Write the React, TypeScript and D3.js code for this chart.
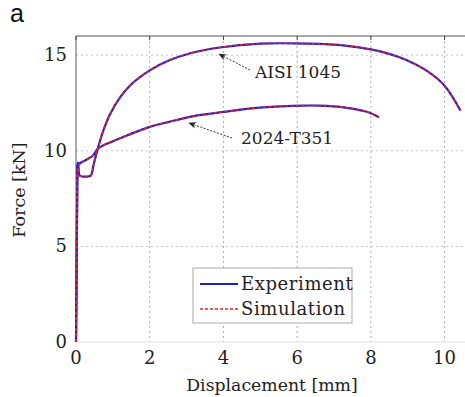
import React from "react";
import * as d3 from "d3";

const W = 465;
const H = 397;

const xTicks = [0, 2, 4, 6, 8, 10];
const yTicks = [0, 5, 10, 15];

// AISI 1045 — experiment
const aisiExpX = [0, 0.02, 0.035, 0.05, 0.07, 0.1, 0.2, 0.3, 0.4, 0.48, 0.59, 0.75, 0.92, 1.2, 1.46, 2.0, 2.5, 3.1, 3.9, 5.0, 6.3, 7.3, 8.0, 8.76, 9.5, 10.0, 10.43];
const aisiExpY = [0, 4.5, 8.5, 9.4, 9.1, 8.7, 8.65, 8.65, 8.7, 9.3, 10.1, 11.1, 11.9, 12.8, 13.4, 14.2, 14.7, 15.1, 15.4, 15.6, 15.6, 15.5, 15.3, 14.9, 14.2, 13.4, 12.1];
// AISI 1045 — simulation
const aisiSimX = [0, 0.02, 0.035, 0.05, 0.07, 0.1, 0.2, 0.3, 0.4, 0.48, 0.59, 0.75, 0.92, 1.2, 1.46, 2.0, 2.5, 3.1, 3.9, 5.0, 6.3, 7.3, 8.0, 8.76, 9.5, 10.0, 10.43];
const aisiSimY = [0, 4.5, 8.4, 9.1, 8.9, 8.7, 8.65, 8.65, 8.7, 9.3, 10.1, 11.1, 11.9, 12.8, 13.4, 14.2, 14.7, 15.1, 15.4, 15.6, 15.6, 15.5, 15.3, 14.9, 14.2, 13.4, 12.1];

// 2024-T351 — experiment
const alExpX = [0, 0.02, 0.035, 0.05, 0.1, 0.2, 0.46, 0.59, 1.0, 1.38, 2.0, 2.5, 3.16, 4.08, 4.97, 5.86, 6.8, 7.5, 7.95, 8.22];
const alExpY = [0, 4.5, 8.5, 9.3, 9.35, 9.45, 9.75, 10.1, 10.5, 10.8, 11.25, 11.5, 11.8, 12.05, 12.25, 12.35, 12.35, 12.2, 12.0, 11.75];
// 2024-T351 — simulation
const alSimX = [0, 0.02, 0.035, 0.05, 0.1, 0.2, 0.46, 0.59, 1.0, 1.38, 2.0, 2.5, 3.16, 4.08, 4.97, 5.86, 6.8, 7.5, 7.95, 8.22];
const alSimY = [0, 4.5, 8.4, 9.1, 9.3, 9.45, 9.75, 10.1, 10.5, 10.8, 11.25, 11.5, 11.8, 12.05, 12.25, 12.35, 12.35, 12.2, 12.0, 11.75];

const legendLabels = ["Experiment", "Simulation"];

const left = 76;
const right = 463;
const top = 36;
const bottom = 342;

export default function App() {
  const x = d3.scaleLinear().domain([0, 10.5]).range([left, right]);
  const y = d3.scaleLinear().domain([0, 16]).range([bottom, top]);
  const lineLin = d3
    .line<[number, number]>()
    .x((d) => x(d[0]))
    .y((d) => y(d[1]))
    .curve(d3.curveCatmullRom.alpha(0.5));
  const zip = (a: number[], b: number[]) => a.map((v, i) => [v, b[i]] as [number, number]);

  const serif = "'DejaVu Serif', serif";
  const blue = "#2020c8";
  const red = "#e8222a";

  return (
    <svg
      width={W}
      height={H}
      style={{ position: "absolute", left: 0, top: 0, background: "#fff" }}
      fontFamily={serif}
    >
      <rect x={0} y={0} width={W} height={H} fill="#fff" />
      {/* grid */}
      {xTicks.filter((t) => t > 0).map((t) => (
        <line key={"gx" + t} x1={x(t)} x2={x(t)} y1={top} y2={bottom} stroke="#aaa" strokeWidth={1} strokeDasharray="2,3" />
      ))}
      {yTicks.filter((t) => t > 0).map((t) => (
        <line key={"gy" + t} x1={left} x2={right} y1={y(t)} y2={y(t)} stroke="#c4c4c4" strokeWidth={1} strokeDasharray="2,3" />
      ))}
      {/* frame */}
      <line x1={left} x2={right + 2} y1={top} y2={top} stroke="#555" strokeWidth={1} />
      <line x1={left} x2={left} y1={top} y2={bottom} stroke="#555" strokeWidth={1} />
      <line x1={left} x2={right + 2} y1={bottom} y2={bottom} stroke="#e2e2e2" strokeWidth={1} />
      {xTicks.map((t) => (
        <line key={"tx" + t} x1={x(t)} x2={x(t)} y1={top} y2={top + 4} stroke="#444" />
      ))}
      {/* tick labels */}
      {xTicks.map((t) => (
        <text key={"lx" + t} x={x(t)} y={364} fontSize={18} textAnchor="middle" fill="#222">
          {t}
        </text>
      ))}
      {yTicks.map((t) => (
        <text key={"ly" + t} x={67} y={y(t) + 6} fontSize={18} textAnchor="end" fill="#222">
          {t}
        </text>
      ))}
      <text x={272} y={391} fontSize={17.3} textAnchor="middle" fill="#222">
        Displacement [mm]
      </text>
      <text transform={`translate(25,190) rotate(-90)`} fontSize={17.5} textAnchor="middle" fill="#222">
        Force [kN]
      </text>
      <text x={10} y={22} fontSize={25} fontFamily="'Liberation Sans', Arial, sans-serif" fill="#111">
        a
      </text>

      {/* curves */}
      <path d={lineLin(zip(aisiExpX, aisiExpY)) || ""} fill="none" stroke={blue} strokeWidth={2.2} />
      <path d={lineLin(zip(alExpX, alExpY)) || ""} fill="none" stroke={blue} strokeWidth={2.2} />
      <path d={lineLin(zip(aisiSimX, aisiSimY)) || ""} fill="none" stroke={red} strokeWidth={1.6} strokeDasharray="3,2.5" />
      <path d={lineLin(zip(alSimX, alSimY)) || ""} fill="none" stroke={red} strokeWidth={1.6} strokeDasharray="3,2.5" />

      {/* annotations */}
      <defs>
        <marker id="arr" viewBox="0 0 10 10" refX={9} refY={5} markerWidth={8} markerHeight={8} orient="auto">
          <path d="M0,1 L10,5 L0,9 L3,5 Z" fill="#222" />
        </marker>
      </defs>
      <line x1={250} y1={70} x2={219} y2={54} stroke="#333" strokeWidth={1} strokeDasharray="2,1.5" markerEnd="url(#arr)" />
      <text x={255} y={78} fontSize={17} fill="#222">AISI 1045</text>
      <line x1={232} y1={138} x2={189} y2={123} stroke="#333" strokeWidth={1} strokeDasharray="2,1.5" markerEnd="url(#arr)" />
      <text x={241} y={144} fontSize={17} fill="#222">2024-T351</text>

      {/* legend */}
      <rect x={193} y={268} width={159} height={55} fill="#fff" stroke="#aaa" strokeWidth={1} />
      <line x1={200} x2={238} y1={284} y2={284} stroke={blue} strokeWidth={2} />
      <line x1={200} x2={238} y1={309} y2={309} stroke={red} strokeWidth={1.5} strokeDasharray="3,2" />
      {legendLabels.map((l, i) => (
        <text key={l} x={241} y={290 + i * 25} fontSize={18} letterSpacing={0.6} fill="#222">
          {l}
        </text>
      ))}
    </svg>
  );
}
